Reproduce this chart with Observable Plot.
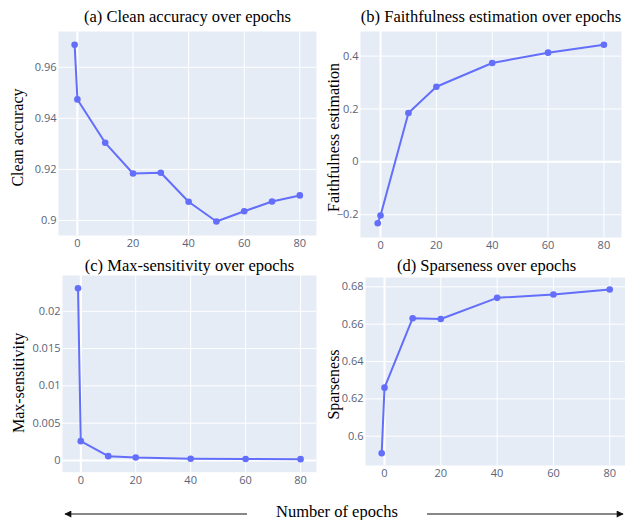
<!DOCTYPE html>
<html>
<head>
<meta charset="utf-8">
<script src="https://cdn.jsdelivr.net/npm/d3@7"></script>
<script src="https://cdn.jsdelivr.net/npm/@observablehq/plot@0.6"></script>
<style>
  body { margin: 0; background: white; }
  #wrap { position: relative; width: 625px; height: 520px; background: white; overflow: hidden; }
  #wrap > svg { position: absolute; }
</style>
</head>
<body>
<div id="wrap"></div>
<script>
// ---- data ----
const epochsA = [-1, 0, 10, 20, 30, 40, 50, 60, 70, 80];
const cleanAccuracy = [0.9688, 0.9474, 0.9304, 0.9184, 0.9187, 0.9073, 0.8996, 0.9036, 0.9074, 0.9098];
const epochsB = [-1, 0, 10, 20, 40, 60, 80];
const faithfulness = [-0.232, -0.203, 0.185, 0.284, 0.374, 0.413, 0.443];
const maxSensitivity = [0.0231, 0.00259, 0.00058, 0.0004, 0.00023, 0.0002, 0.00018];
const sparseness = [0.5909, 0.626, 0.6632, 0.6628, 0.6741, 0.6759, 0.6786];

const xTicks = [0, 20, 40, 60, 80];
const ticksA = [0.9, 0.92, 0.94, 0.96];
const ticksB = [-0.2, 0, 0.2, 0.4];
const ticksC = [0, 0.005, 0.01, 0.015, 0.02];
const ticksD = [0.6, 0.62, 0.64, 0.66, 0.68];

const titles = [
  "(a) Clean accuracy over epochs",
  "(b) Faithfulness estimation over epochs",
  "(c) Max-sensitivity over epochs",
  "(d) Sparseness over epochs"
];
const yLabels = ["Clean accuracy", "Faithfulness estimation", "Max-sensitivity", "Sparseness"];
const xAxisTitle = "Number of epochs";

const LINE = "#636EFA";
const BG = "#E5ECF6";
const SERIF = "'Liberation Serif', 'Times New Roman', serif";
const fmt = d3.format("~g");

function panel(o) {
  const rows = o.xs.map((x, i) => ({x, y: o.ys[i]}));
  const marks = [
    Plot.frame({fill: BG, stroke: null}),
    Plot.gridX({ticks: xTicks, stroke: "white", strokeOpacity: 1, strokeWidth: 1}),
    Plot.gridY({ticks: o.yTicks, stroke: "white", strokeOpacity: 1, strokeWidth: 1}),
    Plot.ruleX([0], {stroke: "white", strokeWidth: 2})
  ];
  if (o.zeroY) marks.push(Plot.ruleY([0], {stroke: "white", strokeWidth: 2}));
  marks.push(
    Plot.axisX({ticks: xTicks, tickSize: 0, tickPadding: 4, label: null, tickFormat: fmt}),
    Plot.axisY({ticks: o.yTicks, tickSize: 0, tickPadding: 2, label: null, tickFormat: fmt}),
    Plot.line(rows, {x: "x", y: "y", stroke: LINE, strokeWidth: 2}),
    Plot.dot(rows, {x: "x", y: "y", fill: LINE, r: 3.3, stroke: null}),
    Plot.text([o.title], {text: d => d, frameAnchor: "top", dy: o.titleDy, dx: o.titleDx || 0,
      textAnchor: "middle", lineAnchor: "middle", fill: "black", fontFamily: SERIF, fontSize: 16.5}),
    Plot.text([o.ylabel], {text: d => d, frameAnchor: "left", dx: o.ylabelDx, dy: o.ylabelDy || 0,
      rotate: -90, textAnchor: "middle", lineAnchor: "middle", fill: "black", fontFamily: SERIF, fontSize: 16})
  );
  const svg = Plot.plot({
    width: o.width, height: o.height,
    marginLeft: o.ml, marginRight: o.mr, marginTop: o.mt, marginBottom: o.mb,
    x: {domain: o.xDomain},
    y: {domain: o.yDomain},
    style: {fontFamily: "'Open Sans', sans-serif", fontSize: "11px", color: "#5a6478", background: "transparent", overflow: "visible"},
    marks
  });
  svg.style.left = o.left + "px";
  svg.style.top = o.top + "px";
  return svg;
}

const wrap = document.getElementById("wrap");
wrap.appendChild(panel({
  xs: epochsA, ys: cleanAccuracy, yTicks: ticksA,
  xDomain: [-6.8, 86], yDomain: [0.8941, 0.974],
  left: 0, top: 0, width: 320, height: 260, ml: 58, mr: 4, mt: 31, mb: 25,
  title: titles[0], titleDy: -15, ylabel: yLabels[0], ylabelDx: -41, ylabelDy: 4
}));
wrap.appendChild(panel({
  xs: epochsB, ys: faithfulness, yTicks: ticksB, zeroY: true,
  xDomain: [-7.17, 86.3], yDomain: [-0.286, 0.493],
  left: 310, top: 0, width: 315, height: 260, ml: 50, mr: 4, mt: 31, mb: 23,
  title: titles[1], titleDy: -15, ylabel: yLabels[1], ylabelDx: -27, ylabelDy: 3
}));
wrap.appendChild(panel({
  xs: epochsB, ys: maxSensitivity, yTicks: ticksC, zeroY: true,
  xDomain: [-6.65, 85.8], yDomain: [-0.00157, 0.0248],
  left: 0, top: 250, width: 320, height: 240, ml: 62, mr: 4, mt: 25, mb: 18.3,
  title: titles[2], titleDy: -10, ylabel: yLabels[2], ylabelDx: -44, ylabelDy: 9
}));
wrap.appendChild(panel({
  xs: epochsB, ys: sparseness, yTicks: ticksD,
  xDomain: [-6.75, 85.6], yDomain: [0.5843, 0.685],
  left: 310, top: 250, width: 315, height: 240, ml: 55, mr: 0, mt: 27, mb: 25,
  title: titles[3], titleDy: -12, titleDx: -9, ylabel: yLabels[3], ylabelDx: -32, ylabelDy: 13
}));

// bottom shared x-axis title with arrows
const foot = d3.create("svg").attr("width", 625).attr("height", 32)
  .style("left", "0px").style("top", "488px");
const defs = foot.append("defs");
defs.append("marker").attr("id", "ah").attr("viewBox", "0 0 10 10")
  .attr("refX", 9).attr("refY", 5).attr("markerWidth", 9).attr("markerHeight", 7)
  .attr("markerUnits", "userSpaceOnUse").attr("orient", "auto")
  .append("path").attr("d", "M0,0L10,5L0,10z").attr("fill", "#111");
foot.append("line").attr("x1", 247).attr("y1", 26).attr("x2", 65).attr("y2", 26)
  .attr("stroke", "#111").attr("stroke-width", 1).attr("marker-end", "url(#ah)");
foot.append("line").attr("x1", 427).attr("y1", 26).attr("x2", 623).attr("y2", 26)
  .attr("stroke", "#111").attr("stroke-width", 1).attr("marker-end", "url(#ah)");
foot.append("text").attr("x", 337).attr("y", 28.5).attr("text-anchor", "middle")
  .attr("font-family", SERIF).attr("font-size", 16.5).attr("fill", "black").text(xAxisTitle);
wrap.appendChild(foot.node());
</script>
</body>
</html>
